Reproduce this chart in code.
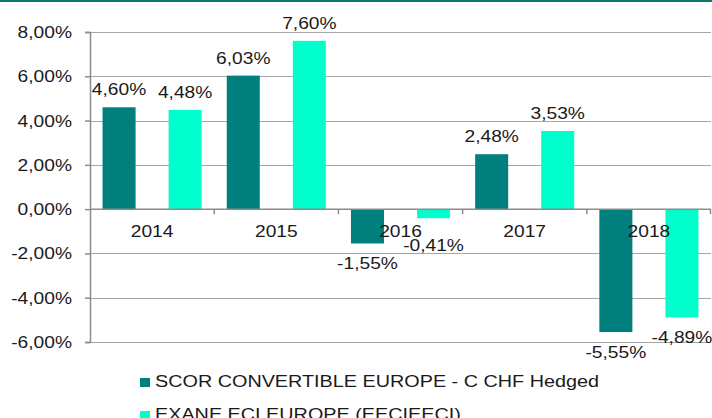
<!DOCTYPE html>
<html>
<head>
<meta charset="utf-8">
<script src="https://cdn.jsdelivr.net/npm/d3@7"></script>
<style>
  body { margin: 0; background: #fff; }
  svg { display: block; font-family: 'Liberation Sans', Arial, sans-serif; }
</style>
</head>
<body>
<div id="chart"></div>
<script>
// data
const years = ['2014', '2015', '2016', '2017', '2018']
const seriesNames = ['SCOR CONVERTIBLE EUROPE - C CHF Hedged', 'EXANE ECI EUROPE (EECIEECI)']
const scorValues = [4.6, 6.03, -1.55, 2.48, -5.55]
const exaneValues = [4.48, 7.6, -0.41, 3.53, -4.89]
const yTicks = [-6, -4, -2, 0, 2, 4, 6, 8]

// size
const W = 712
const H = 418
const margin = { left: 90, right: 1, top: 32, bottom: 76 }

// style
const colors = ['#007f7d', '#00ffcc']
const textColor = '#1a1a1a'
const stretch = 1.2 // the source text is a bit wide

const locale = d3.formatLocale({
  decimal: ',',
  thousands: '.',
  grouping: [3],
  currency: ['', ''],
  minus: '-',
})
const fmt = v => locale.format('.2f')(v) + '%'

const rows = years.map((year, i) => ({
  year,
  values: [scorValues[i], exaneValues[i]],
}))

// scale
const x0 = d3
  .scaleBand()
  .domain(years)
  .range([margin.left, W - margin.right])
const x1 = d3
  .scaleBand()
  .domain([0, 1])
  .range([0, x0.bandwidth()])
  .paddingInner(0.5)
  .paddingOuter(0.19)
const y = d3
  .scaleLinear()
  .domain([-6, 8])
  .range([H - margin.bottom, margin.top])

const svg = d3
  .select('#chart')
  .append('svg')
  .attr('width', W)
  .attr('height', H)

// top rule
svg
  .append('rect')
  .attr('x', 0)
  .attr('y', 0)
  .attr('width', W)
  .attr('height', 2)
  .attr('fill', '#0b7b70')

// gridlines
svg
  .append('g')
  .selectAll('line')
  .data(yTicks.filter(d => d !== 0))
  .join('line')
  .attr('x1', margin.left)
  .attr('x2', W - margin.right)
  .attr('y1', d => Math.round(y(d)) + 0.5)
  .attr('y2', d => Math.round(y(d)) + 0.5)
  .attr('stroke', '#a6a6a6')
  .attr('stroke-width', 1)

// bars
const groups = svg
  .append('g')
  .selectAll('g')
  .data(rows)
  .join('g')
  .attr('transform', d => `translate(${x0(d.year)},0)`)

groups
  .selectAll('rect')
  .data(d => d.values.map((v, i) => ({ v, i })))
  .join('rect')
  .attr('x', d => x1(d.i))
  .attr('width', x1.bandwidth())
  .attr('y', d => y(Math.max(0, d.v)))
  .attr('height', d => Math.abs(y(d.v) - y(0)))
  .attr('fill', d => colors[d.i])

// y-axis
const yAxis = svg
  .append('g')
  .attr('transform', `translate(${margin.left},0)`)
  .call(
    d3
      .axisLeft(y)
      .tickValues(yTicks)
      .tickSize(5)
      .tickFormat(fmt),
  )
yAxis.select('.domain').attr('stroke', '#8c8c8c').attr('stroke-width', 1.5)
yAxis.selectAll('.tick line').attr('stroke', '#8c8c8c').attr('stroke-width', 1.5)
yAxis
  .selectAll('.tick text')
  .attr('x', null)
  .attr('dy', null)
  .attr('transform', `translate(-18,5.5) scale(${stretch},1)`)
  .attr('fill', textColor)
  .style('font-size', '16px')

// x-axis on zero
const zeroY = y(0)
svg
  .append('line')
  .attr('x1', margin.left)
  .attr('x2', W - margin.right)
  .attr('y1', zeroY)
  .attr('y2', zeroY)
  .attr('stroke', '#8c8c8c')
  .attr('stroke-width', 1.5)

svg
  .append('g')
  .selectAll('line')
  .data(years.slice(1).map(d => x0(d)).concat([W - margin.right - 0.5]))
  .join('line')
  .attr('x1', d => d)
  .attr('x2', d => d)
  .attr('y1', zeroY)
  .attr('y2', zeroY + 5)
  .attr('stroke', '#8c8c8c')
  .attr('stroke-width', 1.5)

// category labels
svg
  .append('g')
  .selectAll('text')
  .data(years)
  .join('text')
  .attr('text-anchor', 'middle')
  .attr('transform', d => `translate(${x0(d) + x0.bandwidth() / 2},${zeroY + 28}) scale(${stretch},1)`)
  .attr('fill', textColor)
  .style('font-size', '16px')
  .text(d => d)

// value labels
groups
  .selectAll('text')
  .data(d => d.values.map((v, i) => ({ v, i })))
  .join('text')
  .attr('text-anchor', 'middle')
  .attr('transform', d => {
    const cx = x1(d.i) + x1.bandwidth() / 2
    // negatives sit below the bar, but not on top of the year labels
    const ty = d.v >= 0 ? y(d.v) - 12 : Math.max(y(d.v) + 26, zeroY + 42)
    return `translate(${cx},${ty}) scale(${stretch},1)`
  })
  .attr('fill', textColor)
  .style('font-size', '16px')
  .text(d => fmt(d.v))

// legend
const legend = svg
  .append('g')
  .selectAll('g')
  .data(seriesNames)
  .join('g')
  .attr('transform', (d, i) => `translate(140,${387 + i * 33})`)

legend
  .append('rect')
  .attr('x', 0)
  .attr('y', -9)
  .attr('width', 10)
  .attr('height', 9)
  .attr('fill', (d, i) => colors[i])

legend
  .append('text')
  .attr('transform', `translate(15,0) scale(${stretch},1)`)
  .attr('fill', textColor)
  .style('font-size', '16.5px')
  .text(d => d)
</script>
</body>
</html>
